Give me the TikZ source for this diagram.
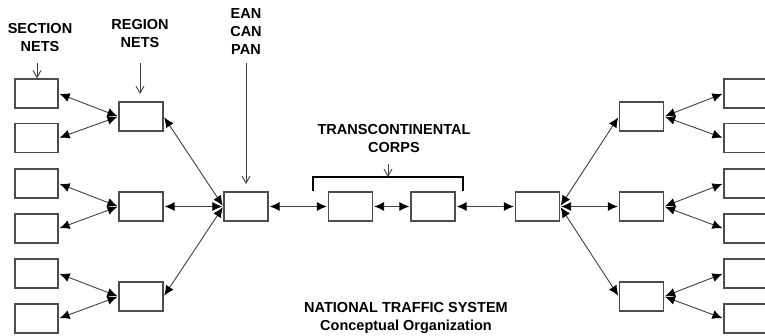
\documentclass[tikz,border=0pt]{standalone}
\usepackage{fontspec}
\setmainfont{Liberation Sans}
\usetikzlibrary{arrows.meta}
\begin{document}
\begin{tikzpicture}[x=1pt,y=-1pt,
  box/.style={draw=black!70,line width=1.3pt,fill=white,minimum width=44pt,minimum height=29pt,inner sep=0pt},
  link/.style={draw=black!75,line width=0.9pt,{Latex[length=10pt,width=9pt,color=black]}-{Latex[length=10pt,width=9pt,color=black]},shorten <=1pt,shorten >=1pt},
  pointer/.style={draw=black!75,line width=0.9pt,-{Straight Barb[length=7pt,width=8pt]}},
  lbl/.style={font=\bfseries\fontsize{14.5}{18}\selectfont,align=center,inner sep=0pt}]
\useasboundingbox (0,0) rectangle (765,335);
\clip (0,0) rectangle (765,335);
% left and right section boxes
\foreach \i/\y in {1/93.5,2/138,3/183.5,4/228.5,5/273.5,6/318.5}{
  \node[box,minimum width=43pt] (ls\i) at (36.5,\y) {};
  \node[box,minimum width=43pt] (rs\i) at (745.5,\y) {};
}
% region boxes
\foreach \i/\y in {1/116.5,2/206.5,3/296.5}{
  \node[box] (lr\i) at (141,\y) {};
  \node[box] (rr\i) at (641.5,\y) {};
}
\node[box] (ean) at (246,206.5) {};
\node[box] (t1) at (350.5,206.5) {};
\node[box] (t2) at (433,206.5) {};
\node[box] (rh) at (537.5,206.5) {};
% connectors left
\draw[link] (ls1.east) -- (lr1.west);
\draw[link] (ls2.east) -- (lr1.west);
\draw[link] (ls3.east) -- (lr2.west);
\draw[link] (ls4.east) -- (lr2.west);
\draw[link] (ls5.east) -- (lr3.west);
\draw[link] (ls6.east) -- (lr3.west);
\draw[link] (lr1.east) -- (ean.west);
\draw[link] (lr2.east) -- (ean.west);
\draw[link] (lr3.east) -- (ean.west);
% middle
\draw[link] (ean.east) -- (t1.west);
\draw[link] (t1.east) -- (t2.west);
\draw[link] (t2.east) -- (rh.west);
% right
\draw[link] (rh.east) -- (rr1.west);
\draw[link] (rh.east) -- (rr2.west);
\draw[link] (rh.east) -- (rr3.west);
\draw[link] (rr1.east) -- (rs1.west);
\draw[link] (rr1.east) -- (rs2.west);
\draw[link] (rr2.east) -- (rs3.west);
\draw[link] (rr2.east) -- (rs4.west);
\draw[link] (rr3.east) -- (rs5.west);
\draw[link] (rr3.east) -- (rs6.west);
% brace
\coordinate (bl) at (313,191);
\coordinate (br) at (463,191);
\draw[black,line width=1.5pt] (bl) -- (313,177) -- (463,177) -- (br);
\coordinate (btop) at (388,177);
% labels
\node[lbl] (secl) at (40,38) {SECTION\\NETS};
\node[lbl] (regl) at (140,34) {REGION\\NETS};
\node[lbl] (eanl) at (246,32) {EAN\\CAN\\PAN};
\node[lbl] (tcl) at (394,139) {TRANSCONTINENTAL\\CORPS};
\node[lbl] (ntl) at (406,318) {NATIONAL TRAFFIC SYSTEM\\Conceptual Organization};
% pointers
\coordinate (p1) at (37,63);
\coordinate (p2) at (140,63);
\coordinate (p3) at (246,63);
\coordinate (p4) at (388,164);
\coordinate (e2) at (140,94);
\coordinate (e3) at (246,184);
\draw[pointer] (p1) -- (ls1.north -| p1);
\draw[pointer] (p2) -- (e2);
\draw[pointer] (p3) -- (e3);
\draw[pointer] (p4) -- (btop);
\end{tikzpicture}
\end{document}
